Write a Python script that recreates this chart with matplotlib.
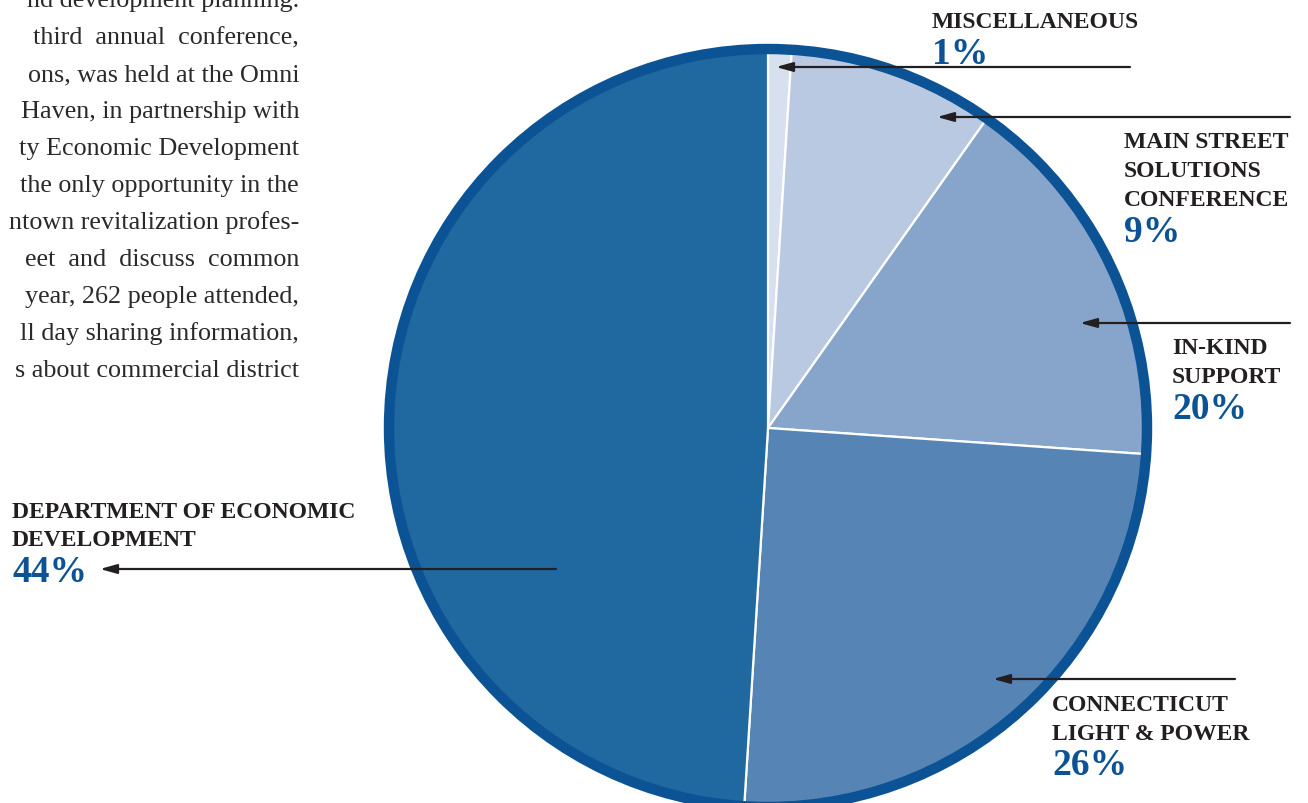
import matplotlib
matplotlib.use("Agg")
import matplotlib.pyplot as plt
from matplotlib.patches import Circle

# slice shares as drawn (clockwise from 12 o'clock)
names = ["MISCELLANEOUS", "MAIN STREET\nSOLUTIONS\nCONFERENCE", "IN-KIND\nSUPPORT",
         "CONNECTICUT\nLIGHT & POWER", "DEPARTMENT OF ECONOMIC\nDEVELOPMENT"]
shares = [1.0, 8.8, 16.3, 24.9, 49.0]
pct_labels = ["1%", "9%", "20%", "26%", "44%"]
colors = ["#d6e0ef", "#b9c9e2", "#87a4cb", "#5684b5", "#1f68a0"]

body_lines = [
    "nd development planning.",
    "third  annual  conference,",
    "ons, was held at the Omni",
    "Haven, in partnership with",
    "ty Economic Development",
    "the only opportunity in the",
    "ntown revitalization profes-",
    "eet  and  discuss  common",
    "year, 262 people attended,",
    "ll day sharing information,",
    "s about commercial district",
]

W, H = 1308, 804
fig = plt.figure(figsize=(W / 100, H / 100), dpi=100)
ax = fig.add_axes([0, 0, 1, 1])

cx, cy = 768, H - 429
R = 376
ax.pie(shares, colors=colors, startangle=90, counterclock=False,
       center=(cx, cy), radius=R,
       wedgeprops=dict(edgecolor="white", linewidth=1.6))
ax.add_patch(Circle((cx, cy), R + 3, fill=False, edgecolor="#0b5394", linewidth=7.5, zorder=5))

ax.set_xlim(0, W)
ax.set_ylim(0, H)
ax.set_aspect("equal")
ax.axis("off")

serif = "Liberation Serif"
dark = "#231f20"
blue = "#0b5394"

# body paragraph, cut at the left edge
for i, line in enumerate(body_lines):
    ax.text(299, H - (i * 37 + 1), line, ha="right", va="center",
            fontsize=18.8, family=serif, color="#2a2a2a")

# label blocks: (x, y of first line, line step, pct y)
label_pos = [
    (932, 22, 0, 55),
    (1124, 143, 28.5, 233),
    (1172, 349, 29, 410),
    (1052, 706, 28.5, 766),
    (12, 512, 29, 573),
]
arrows = [
    ((1130, 68), (776, 68)),
    ((1290, 118), (937, 118)),
    ((1290, 324), (1080, 324)),
    ((1235, 680), (993, 680)),
    ((556, 570), (100, 570)),
]

for name, pct, (x, y, step, py) in zip(names, pct_labels, label_pos):
    for j, part in enumerate(name.split("\n")):
        ax.text(x, H - (y + j * step), part, ha="left", va="center",
                fontsize=17, fontweight="bold", family=serif, color=dark)
    ax.text(x, H - py, pct, ha="left", va="center",
            fontsize=27, fontweight="bold", family=serif, color=blue)

for (x0, y0), (x1, y1) in arrows:
    ax.annotate("", xy=(x1, H - y1), xytext=(x0, H - y0),
                arrowprops=dict(arrowstyle="-|>,head_length=1.0,head_width=0.28",
                                color=dark, lw=1.6, shrinkA=0, shrinkB=0),
                zorder=6)

fig.savefig("out.png", dpi=100)
